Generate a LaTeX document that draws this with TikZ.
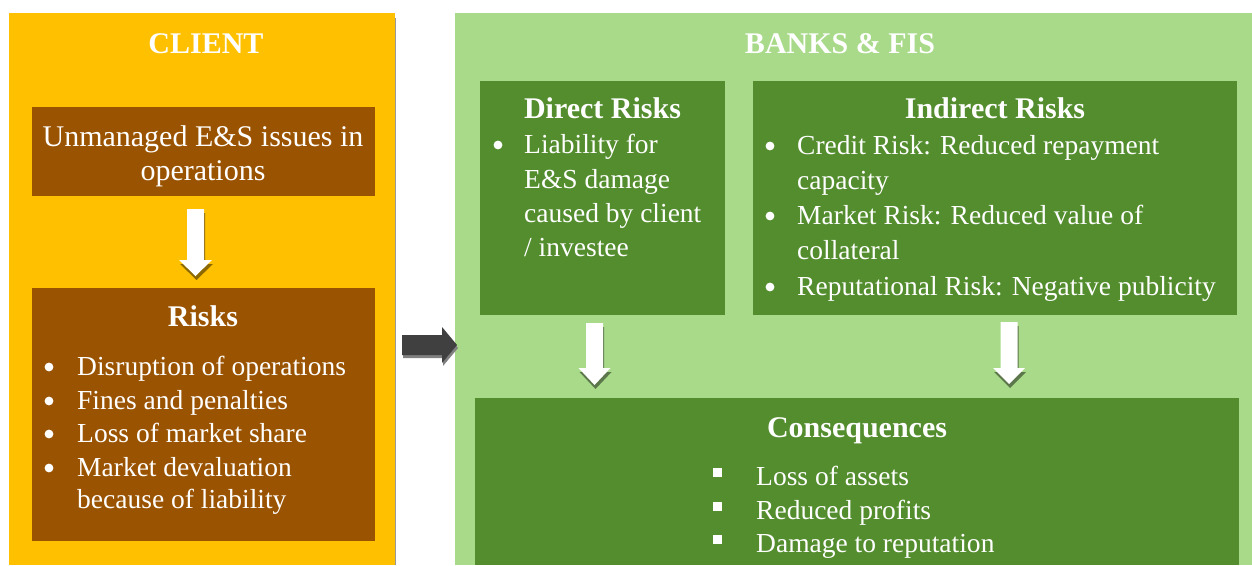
\documentclass[tikz,border=0pt]{standalone}
\usepackage{fontspec}
\setmainfont{Liberation Serif}
\definecolor{cyellow}{HTML}{FFC000}
\definecolor{cbrown}{HTML}{9A5300}
\definecolor{clgreen}{HTML}{A8DA89}
\definecolor{cdgreen}{HTML}{538D2E}
\definecolor{cgray}{HTML}{404040}
\newcommand\bdpath[3]{(-8.5,0) -- (8.5,0) -- (8.5,#1) -- (#3,#1) -- (0,#2) -- (-#3,#1) -- (-8.5,#1) -- cycle}
\begin{document}
\begin{tikzpicture}[x=1pt,y=-1pt,
  box/.style={inner sep=0pt,outer sep=0pt,draw=none,anchor=north west},
  hd/.style={text=white,font=\bfseries\fontsize{30}{34}\selectfont,inner sep=0pt,anchor=base},
  big/.style={text=white,font=\fontsize{30}{35}\selectfont,inner sep=0pt,anchor=base},
  txt/.style={text=white,font=\fontsize{27.5}{33}\selectfont,inner sep=0pt,anchor=base west},
  dot/.style={fill=white},
  shd/.style={fill=black,fill opacity=0.45},
  warrow/.style={fill=white}]
\useasboundingbox (0,0) rectangle (1252,565);
% main panels
\draw[gray!80,line width=1.5pt] (395.5,18) -- (395.5,565);
\node[box,fill=cyellow,minimum width=386pt,minimum height=552pt] (client) at (9,13) {};
\node[box,fill=clgreen,minimum width=797pt,minimum height=552pt] (banks) at (455,13) {};
% inner boxes
\node[box,fill=cbrown,minimum width=343pt,minimum height=89pt] (unm) at (32,107) {};
\node[box,fill=cbrown,minimum width=343pt,minimum height=253pt] (risks) at (32,288) {};
\node[box,fill=cdgreen,minimum width=245pt,minimum height=234pt] (direct) at (480,81) {};
\node[box,fill=cdgreen,minimum width=484pt,minimum height=234pt] (indirect) at (753,81) {};
\node[box,fill=cdgreen,minimum width=764pt,minimum height=167pt] (cons) at (475,398) {};
% titles
\node[hd] (tclient) at (206,53) {CLIENT};
\node[hd] (tbanks) at (840,53) {BANKS \& FIS};
% client texts
\node[big] (u1) at (203,146) {Unmanaged E\&S issues in};
\node[big] (u2) at (203,180) {operations};
\node[hd] (trisks) at (203,326) {Risks};
\node[txt] (r1) at (77,375) {Disruption of operations};
\node[txt] (r2) at (77,409) {Fines and penalties};
\node[txt] (r3) at (77,442) {Loss of market share};
\node[txt] (r4) at (77,476) {Market devaluation};
\node[txt] (r5) at (77,508) {because of liability};
\foreach \y in {375,409,442,476} \fill[dot] (49,\y-8) circle (4.4);
% direct risks
\node[hd] (tdirect) at (602.5,118) {Direct Risks};
\node[txt] (d1) at (524,153) {Liability for};
\node[txt] (d2) at (524,188) {E\&S damage};
\node[txt] (d3) at (524,222) {caused by client};
\node[txt] (d4) at (524,256) {/ investee};
\fill[dot] (498,145) circle (4.4);
% indirect risks
\node[hd] (tindirect) at (995,118) {Indirect Risks};
\node[txt] (i1) at (797,154) {Credit Risk: Reduced repayment};
\node[txt] (i2) at (797,189) {capacity};
\node[txt] (i3) at (797,224) {Market Risk: Reduced value of};
\node[txt] (i4) at (797,259) {collateral};
\node[txt] (i5) at (797,295) {Reputational Risk: Negative publicity};
\foreach \y in {154,224,295} \fill[dot] (770,\y-8) circle (4.4);
% consequences
\node[hd] (tcons) at (857,437) {Consequences};
\node[txt] (c1) at (756,485) {Loss of assets};
\node[txt] (c2) at (756,519) {Reduced profits};
\node[txt] (c3) at (756,552) {Damage to reputation};
\foreach \y in {485,519,552} \fill[dot] (713,\y-17) rectangle (722,\y-8);
% block arrows (down)
\fill[shd,shift={(196.5,213)}] \bdpath{51}{67}{16.5};
\fill[warrow,shift={(195.5,209)}] \bdpath{51}{67}{16.5};
\fill[shd,shift={(595.5,327)}] \bdpath{45}{62}{16};
\fill[warrow,shift={(594.5,323)}] \bdpath{45}{62}{16};
\fill[shd,shift={(1010,326)}] \bdpath{46}{62}{16};
\fill[warrow,shift={(1009,322)}] \bdpath{46}{62}{16};
% middle arrow
\fill[gray,shift={(1,3)}] (402,335) -- (442,335) -- (442,327) -- (457,345) -- (442,363) -- (442,355) -- (402,355) -- cycle;
\fill[cgray] (402,335) -- (442,335) -- (442,327) -- (457,345) -- (442,363) -- (442,355) -- (402,355) -- cycle;
\end{tikzpicture}
\end{document}
